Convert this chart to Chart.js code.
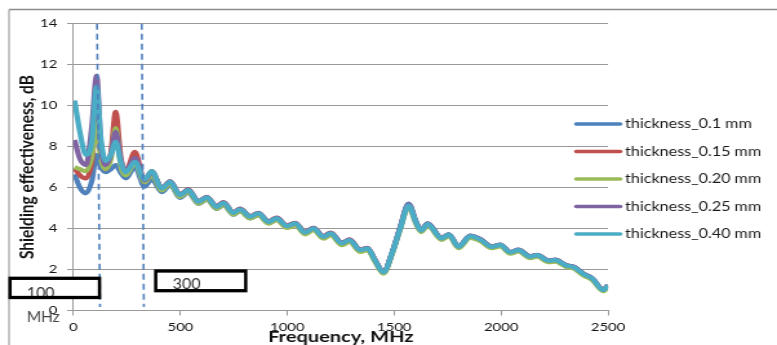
<!DOCTYPE html>
<html><head><meta charset="utf-8">
<script src="https://cdn.jsdelivr.net/npm/chart.js@4.4.0/dist/chart.umd.min.js"></script>
<style>
html,body{margin:0;padding:0;background:#fff;overflow:hidden}
#c{display:block;width:777px !important;height:345px !important}
</style></head><body>
<canvas id="c" width="602" height="345" style="width:777px;height:345px"></canvas>
<script>
// ---- data ----
const frequencies = [5,30,58,85,108,128,150,175,197,222,245,287,332,366,
 413,452,498,537,584,623,670,701,748,779,826,865,912,951,998,1037,1083,1122,1169,1203,1255,1291,1341,1375,1410,1450,1490,1528,1567,1603,1626,1656,1722,1755,1801,1855,1902,1957,1996,2043,2081,2136,2168,2222,2253,2305,2339,2386,2425,2478,2500];
const se_010 = [6.65,6.0,5.72,6.3,7.6,7.0,6.75,6.9,7.1,6.7,6.45,7.0,6.05,6.4,
 5.78,6.12,5.50,5.76,5.20,5.42,4.96,5.16,4.68,4.86,4.50,4.66,4.26,4.43,4.06,4.19,3.76,3.96,3.56,3.73,3.25,3.41,2.92,3.01,2.45,1.86,2.82,4.06,5.22,4.32,3.93,4.25,3.54,3.71,3.12,3.64,3.48,3.12,3.21,2.85,2.96,2.64,2.71,2.44,2.47,2.20,2.13,1.79,1.58,1.01,1.23];
const se_015 = [6.95,6.6,6.45,7.2,9.4,7.6,6.9,7.7,9.7,7.4,6.8,7.75,6.35,6.8,
 5.98,6.31,5.66,5.91,5.34,5.55,5.09,5.29,4.80,4.97,4.61,4.77,4.36,4.53,4.15,4.28,3.84,4.04,3.63,3.80,3.31,3.47,2.97,3.06,2.48,1.88,2.80,4.02,5.14,4.29,3.91,4.23,3.53,3.71,3.12,3.64,3.48,3.12,3.21,2.85,2.96,2.64,2.71,2.44,2.47,2.20,2.13,1.79,1.58,1.01,1.23];
const se_020 = [7.0,6.9,6.8,7.5,9.1,7.4,6.9,7.4,8.9,7.0,6.6,7.2,6.25,6.6,
 5.86,6.18,5.54,5.79,5.22,5.43,4.97,5.17,4.68,4.85,4.49,4.65,4.24,4.41,4.03,4.16,3.72,3.92,3.51,3.68,3.19,3.35,2.86,2.94,2.38,1.80,2.74,3.95,5.05,4.20,3.83,4.14,3.45,3.63,3.04,3.55,3.40,3.04,3.13,2.77,2.88,2.56,2.63,2.36,2.39,2.12,2.05,1.71,1.50,0.94,1.16];
const se_025 = [8.32,7.4,7.1,8.9,11.45,8.1,7.1,7.6,8.72,7.3,6.8,7.45,6.35,6.75,
 5.97,6.30,5.65,5.90,5.33,5.54,5.08,5.28,4.79,4.96,4.60,4.76,4.35,4.52,4.14,4.27,3.83,4.03,3.62,3.79,3.30,3.46,2.96,3.05,2.47,1.88,2.82,4.05,5.18,4.30,3.92,4.24,3.54,3.72,3.13,3.66,3.50,3.13,3.22,2.86,2.97,2.65,2.72,2.45,2.48,2.21,2.14,1.80,1.59,1.02,1.24];
const se_040 = [10.25,8.7,7.6,8.2,10.9,8.4,7.3,7.6,8.23,7.2,6.75,7.26,6.4,6.8,
 5.96,6.28,5.63,5.88,5.31,5.52,5.06,5.26,4.77,4.94,4.58,4.74,4.33,4.50,4.12,4.25,3.81,4.01,3.60,3.77,3.28,3.44,2.95,3.03,2.46,1.87,2.80,4.00,5.12,4.28,3.90,4.22,3.52,3.70,3.11,3.63,3.47,3.11,3.20,2.84,2.95,2.63,2.70,2.43,2.46,2.19,2.12,1.78,1.57,1.00,1.22];
const seriesNames = ['thickness_0.1 mm','thickness_0.15 mm','thickness_0.20 mm','thickness_0.25 mm','thickness_0.40 mm'];
const xTickValues = [0,500,1000,1500,2000,2500];
const yTickValues = [0,2,4,6,8,10,12,14];
const markerTop = [110,319];     // dashed guide lines, MHz at top
const markerBottom = [124,329];  // and at bottom
const boxLabels = ['100','300'];
const boxUnit = 'MHz';
const xTitle = 'Frequency, MHz';
const yTitle = 'Shielding effectiveness, dB';

// ---- presentation ----
const S = 777/602; // horizontal stretch of the original picture
const colors = ['#4F81BD','#C0504D','#9BBB59','#8064A2','#4BACC6'];
const allSeries = [se_010,se_015,se_020,se_025,se_040];
Chart.defaults.font.family = 'Lato';

const datasets = allSeries.map((arr,i)=>({
  label: seriesNames[i],
  data: frequencies.map((f,j)=>({x:f,y:arr[j]})),
  borderColor: colors[i],
  backgroundColor: colors[i],
  borderWidth: 4.2,
  pointRadius: 0,
  cubicInterpolationMode: 'monotone',
  order: 5-i,
  fill: false
}));

const framePlugin = {
  id:'frame',
  beforeDraw(chart){
    const c = chart.ctx;
    c.save();
    c.fillStyle='#fff'; c.fillRect(0,0,chart.width,chart.height);
    c.strokeStyle='#8c8c8c';
    c.lineWidth=1.3; c.beginPath(); c.moveTo(7,9.5); c.lineTo(chart.width,9.5); c.stroke();
    c.lineWidth=1.0; c.beginPath(); c.moveTo(7,9.5); c.lineTo(7,chart.height); c.stroke();
    c.restore();
  }
};

const overlayPlugin = {
  id:'overlay',
  afterDraw(chart){
    const c = chart.ctx, xs = chart.scales.x, area = chart.chartArea;
    // legend
    c.save();
    const ly = [124,151.5,179,206.5,234];
    c.font = '12.5px Lato';
    c.textBaseline='middle'; c.textAlign='left';
    seriesNames.forEach((n,i)=>{
      c.strokeStyle=colors[i]; c.lineWidth=3.6; c.lineCap='round';
      c.beginPath(); c.moveTo(446.5,ly[i]); c.lineTo(480.5,ly[i]); c.stroke();
      c.fillStyle='#1a1a1a'; c.fillText(n,484.3,ly[i]);
    });
    c.restore();
    // dashed guide lines
    c.save();
    c.strokeStyle='#4F81BD'; c.lineWidth=1.6; c.setLineDash([6,4]);
    markerTop.forEach((t,i)=>{
      c.beginPath();
      c.moveTo(xs.getPixelForValue(t), area.top);
      c.lineTo(xs.getPixelForValue(markerBottom[i]), 307);
      c.stroke();
    });
    c.restore();
    // text boxes (drawn unstretched)
    c.save();
    c.scale(1/S,1);
    const boxes = [[10,278.3,89.5,19.2],[155.7,271,90,19.7]];
    const txt = [[26.7,298.3],[172.7,289]];
    boxes.forEach((b,i)=>{
      c.fillStyle='#fff'; c.fillRect(b[0],b[1],b[2],b[3]);
      c.fillStyle='#333'; c.font='16px Lato'; c.textBaseline='alphabetic'; c.textAlign='left';
      c.fillText(boxLabels[i],txt[i][0],txt[i][1]);
      c.strokeStyle='#000'; c.lineWidth=3.3; c.strokeRect(b[0],b[1],b[2],b[3]);
    });
    c.fillStyle='#444'; c.font='15.5px Lato';
    c.fillText(boxUnit,26.7,321.7);
    c.restore();
  }
};

new Chart(document.getElementById('c'), {
  type:'line',
  data:{datasets},
  plugins:[framePlugin, overlayPlugin],
  options:{
    responsive:false, animation:false, devicePixelRatio:1,
    layout:{padding:{left:0,right:602-471.06,top:23.7,bottom:0}},
    plugins:{legend:{display:false},tooltip:{enabled:false}},
    scales:{
      x:{type:'linear',min:0,max:2500,
        afterBuildTicks:(s)=>{s.ticks = xTickValues.map(v=>({value:v}));},
        ticks:{font:{size:11.5},color:'#111',padding:5,maxRotation:0,autoSkip:false,callback:(v)=>String(v)},
        grid:{drawOnChartArea:false,drawTicks:true,tickLength:5,color:'#999'},
        border:{display:true,color:'#999'},
        title:{display:true,text:xTitle,color:'#111',font:{size:15.5,weight:'bold',lineHeight:1},padding:{top:0,bottom:0}},
        afterFit:(s)=>{s.height = 345-310.5;}
      },
      y:{type:'linear',min:0,max:14,
        afterBuildTicks:(s)=>{s.ticks = yTickValues.map(v=>({value:v}));},
        ticks:{font:{size:11.5},color:'#111',padding:7.5,callback:(v)=>String(v)},
        grid:{color:'#999',tickLength:5},
        border:{display:true,color:'#999'},
        title:{display:true,text:yTitle,color:'#111',font:{size:15.5,weight:'bold',lineHeight:1},padding:{top:12.75,bottom:0}},
        afterFit:(s)=>{s.width = 56.95;}
      }
    }
  }
});
</script>
</body></html>
